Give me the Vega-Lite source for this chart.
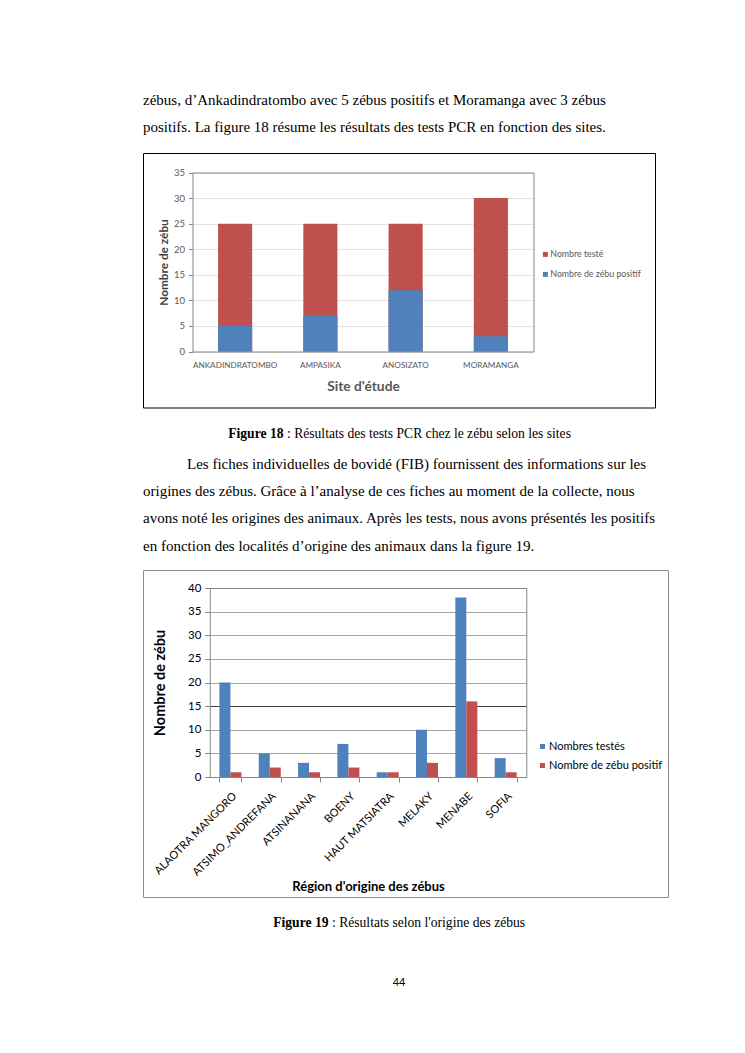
{
  "$schema": "https://vega.github.io/schema/vega-lite/v6.json",
  "background": "white",
  "padding": {"left": 142, "top": 86, "right": 0, "bottom": 0},
  "autosize": {"type": "pad"},
  "bounds": "flush",
  "spacing": 0,
  "resolve": {"scale": {"color": "independent", "xOffset": "independent"}, "legend": {"color": "independent"}},
  "config": {
    "view": {"stroke": null},
    "font": "Lato",
    "axis": {"labelFont": "Lato", "titleFont": "Lato"},
    "legend": {"labelFont": "Lato"}
  },
  "datasets": {
    "texte_haut": [
      {"ligne": 1, "texte": "zébus, d’Ankadindratombo avec 5 zébus positifs et Moramanga avec 3 zébus"},
      {"ligne": 2, "texte": "positifs. La figure 18 résume les résultats des tests  PCR en fonction des sites."}
    ],
    "legende18": [{"gras": "Figure 18", "suite": ": Résultats des tests PCR chez le zébu selon les sites"}],
    "paragraphe": [
      {"ligne": 1, "texte": "Les fiches individuelles de bovidé (FIB) fournissent des informations sur les"},
      {"ligne": 2, "texte": "origines des zébus. Grâce à l’analyse de ces fiches au moment de la collecte, nous"},
      {"ligne": 3, "texte": "avons noté les origines des animaux. Après les tests, nous avons présentés les positifs"},
      {"ligne": 4, "texte": "en fonction des localités d’origine des animaux dans la figure 19."}
    ],
    "sites": [
      {"site": "ANKADINDRATOMBO", "serie": "Nombre testé", "n": 25},
      {"site": "AMPASIKA", "serie": "Nombre testé", "n": 25},
      {"site": "ANOSIZATO", "serie": "Nombre testé", "n": 25},
      {"site": "MORAMANGA", "serie": "Nombre testé", "n": 30},
      {"site": "ANKADINDRATOMBO", "serie": "Nombre de zébu positif", "n": 5},
      {"site": "AMPASIKA", "serie": "Nombre de zébu positif", "n": 7},
      {"site": "ANOSIZATO", "serie": "Nombre de zébu positif", "n": 12},
      {"site": "MORAMANGA", "serie": "Nombre de zébu positif", "n": 3}
    ],
    "regions": [
      {"region": "ALAOTRA MANGORO", "serie": "Nombres testés", "n": 20},
      {"region": "ATSIMO_ANDREFANA", "serie": "Nombres testés", "n": 5},
      {"region": "ATSINANANA", "serie": "Nombres testés", "n": 3},
      {"region": "BOENY", "serie": "Nombres testés", "n": 7},
      {"region": "HAUT MATSIATRA", "serie": "Nombres testés", "n": 1},
      {"region": "MELAKY", "serie": "Nombres testés", "n": 10},
      {"region": "MENABE", "serie": "Nombres testés", "n": 38},
      {"region": "SOFIA", "serie": "Nombres testés", "n": 4},
      {"region": "ALAOTRA MANGORO", "serie": "Nombre de zébu positif", "n": 1},
      {"region": "ATSIMO_ANDREFANA", "serie": "Nombre de zébu positif", "n": 2},
      {"region": "ATSINANANA", "serie": "Nombre de zébu positif", "n": 1},
      {"region": "BOENY", "serie": "Nombre de zébu positif", "n": 2},
      {"region": "HAUT MATSIATRA", "serie": "Nombre de zébu positif", "n": 1},
      {"region": "MELAKY", "serie": "Nombre de zébu positif", "n": 3},
      {"region": "MENABE", "serie": "Nombre de zébu positif", "n": 16},
      {"region": "SOFIA", "serie": "Nombre de zébu positif", "n": 1}
    ],
    "legende19": [{"gras": "Figure 19", "suite": ": Résultats selon l'origine des zébus"}],
    "page": [{"texte": "44"}]
  },
  "vconcat": [
    {
      "width": 512,
      "height": 66.5,
      "data": {"name": "texte_haut"},
      "mark": {"type": "text", "align": "left", "baseline": "middle", "font": "Liberation Serif", "fontSize": 15, "color": "#000000"},
      "encoding": {
        "x": {"datum": 0, "type": "quantitative", "scale": {"domain": [0, 1]}, "axis": null},
        "y": {"field": "ligne", "type": "ordinal", "scale": {"type": "point", "padding": 0, "range": [14, 41]}, "axis": null},
        "text": {"field": "texte"}
      }
    },
    {
      "width": 512,
      "height": 254.5,
      "view": {"stroke": "#000000", "strokeWidth": 1},
      "data": {"name": "sites"},
      "layer": [
        {
          "transform": [{"filter": "datum.serie === 'Nombre testé'"}],
          "mark": {"type": "bar"},
          "encoding": {
            "x": {
              "field": "site", "type": "nominal",
              "scale": {"domain": ["ANKADINDRATOMBO", "AMPASIKA", "ANOSIZATO", "MORAMANGA"], "range": [49.5, 390.5], "paddingInner": 0.6, "paddingOuter": 0.3},
              "axis": {"orient": "bottom", "offset": -56, "domainColor": "#868686", "ticks": false, "labelFontSize": 8.2, "labelColor": "#595959", "labelPadding": 10, "labelAngle": 0, "title": "Site d'étude", "titleFontSize": 13.8, "titleFontWeight": "bold", "titleColor": "#595959", "titlePadding": 11, "grid": false}
            },
            "y": {
              "field": "n", "type": "quantitative",
              "scale": {"domain": [0, 35], "range": [198.5, 19.5], "nice": false},
              "axis": {"orient": "left", "offset": -49.5, "values": [0, 5, 10, 15, 20, 25, 30, 35], "domainColor": "#868686", "tickColor": "#868686", "tickSize": 4, "labelPadding": 4, "labelFontSize": 9.5, "labelColor": "#595959", "grid": true, "gridColor": "#e3e3e3", "title": "Nombre de zébu", "titleFontSize": 11.8, "titleFontWeight": "bold", "titleColor": "#404040", "titlePadding": 4}
            },
            "color": {
              "field": "serie", "type": "nominal",
              "scale": {"domain": ["Nombre testé", "Nombre de zébu positif"], "range": ["#C0504D", "#4F81BD"]},
              "legend": {"orient": "none", "legendX": 398, "legendY": 97, "title": null, "symbolType": "square", "symbolSize": 25, "symbolStrokeWidth": 0, "labelFontSize": 8.8, "labelColor": "#595959", "rowPadding": 10, "labelOffset": 0.5, "padding": 0}
            }
          }
        },
        {
          "transform": [{"filter": "datum.serie === 'Nombre de zébu positif'"}],
          "mark": {"type": "bar"},
          "encoding": {
            "x": {
              "field": "site", "type": "nominal",
              "scale": {"domain": ["ANKADINDRATOMBO", "AMPASIKA", "ANOSIZATO", "MORAMANGA"], "range": [49.5, 390.5], "paddingInner": 0.6, "paddingOuter": 0.3},
              "axis": {"orient": "top", "offset": -19.5, "domainColor": "#868686", "ticks": false, "labels": false, "title": null, "grid": false}
            },
            "y": {
              "field": "n", "type": "quantitative",
              "scale": {"domain": [0, 35], "range": [198.5, 19.5], "nice": false},
              "axis": {"orient": "right", "offset": -121.5, "domainColor": "#868686", "ticks": false, "labels": false, "title": null, "grid": false}
            },
            "color": {"field": "serie", "type": "nominal"}
          }
        }
      ],
      "resolve": {"axis": {"x": "independent", "y": "independent"}}
    },
    {
      "width": 512,
      "height": 52,
      "data": {"name": "legende18"},
      "layer": [
        {"mark": {"type": "text", "align": "right", "baseline": "middle", "font": "Liberation Serif", "fontSize": 13.6, "fontWeight": "bold", "color": "#000000", "dx": -115.5}, "encoding": {"text": {"field": "gras"}}},
        {"mark": {"type": "text", "align": "left", "baseline": "middle", "font": "Liberation Serif", "fontSize": 13.6, "color": "#000000", "dx": -112}, "encoding": {"text": {"field": "suite"}}}
      ]
    },
    {
      "width": 512,
      "height": 110,
      "data": {"name": "paragraphe"},
      "encoding": {
        "x": {"datum": 0, "type": "quantitative", "scale": {"domain": [0, 1]}, "axis": null},
        "y": {"field": "ligne", "type": "ordinal", "scale": {"type": "point", "padding": 0, "range": [3.5, 85.5]}, "axis": null},
        "text": {"field": "texte"}
      },
      "layer": [
        {
          "transform": [{"filter": "datum.ligne === 1"}],
          "mark": {"type": "text", "align": "left", "baseline": "middle", "font": "Liberation Serif", "fontSize": 15, "color": "#000000", "dx": 44}
        },
        {
          "transform": [{"filter": "datum.ligne > 1"}],
          "mark": {"type": "text", "align": "left", "baseline": "middle", "font": "Liberation Serif", "fontSize": 15, "color": "#000000"}
        }
      ]
    },
    {
      "width": 525,
      "height": 327,
      "view": {"stroke": "#8c8c8c", "strokeWidth": 1},
      "data": {"name": "regions"},
      "layer": [
        {
          "transform": [{"filter": "datum.serie === 'Nombres testés'"}],
          "mark": {"type": "bar"},
          "encoding": {
            "x": {
              "field": "region", "type": "nominal",
              "scale": {"domain": ["ALAOTRA MANGORO", "ATSIMO_ANDREFANA", "ATSINANANA", "BOENY", "HAUT MATSIATRA", "MELAKY", "MENABE", "SOFIA"], "range": [66.8, 383.3], "paddingInner": 0.44, "paddingOuter": 0.245},
              "axis": {"orient": "bottom", "offset": -120, "domainColor": "#868686", "ticks": true, "tickBand": "extent", "tickSize": 5, "tickColor": "#868686", "labelAngle": -45, "labelAlign": "right", "labelBaseline": "top", "labelFontSize": 11, "labelColor": "#000000", "labelPadding": 8, "title": "Région d'origine des zébus", "titleFontSize": 13, "titleFontWeight": "bold", "titleColor": "#000000", "titlePadding": 3, "grid": false}
            },
            "xOffset": {"field": "serie", "type": "nominal", "scale": {"domain": ["Nombres testés", "Nombre de zébu positif"], "paddingInner": 0, "paddingOuter": 0}},
            "y": {
              "field": "n", "type": "quantitative",
              "scale": {"domain": [0, 40], "range": [207, 18], "nice": false},
              "axis": {"orient": "left", "offset": -66.8, "values": [0, 5, 10, 15, 20, 25, 30, 35, 40], "domainColor": "#868686", "tickColor": "#868686", "tickSize": 5, "labelPadding": 4, "labelFontSize": 11.5, "labelColor": "#000000", "grid": true, "gridColor": {"condition": {"test": "datum.value === 15", "value": "#404040"}, "value": "#a6a6a6"}, "title": "Nombre de zébu", "titleFontSize": 14.5, "titleFontWeight": "bold", "titleColor": "#000000", "titlePadding": 20}
            },
            "color": {
              "field": "serie", "type": "nominal",
              "scale": {"domain": ["Nombres testés", "Nombre de zébu positif"], "range": ["#4F81BD", "#C0504D"]},
              "legend": {"orient": "none", "legendX": 394, "legendY": 171, "title": null, "symbolType": "square", "symbolSize": 25, "symbolStrokeWidth": 0, "labelFontSize": 11, "labelColor": "#000000", "rowPadding": 7, "labelOffset": 1, "padding": 0}
            }
          }
        },
        {
          "transform": [{"filter": "datum.serie === 'Nombre de zébu positif'"}],
          "mark": {"type": "bar"},
          "encoding": {
            "x": {
              "field": "region", "type": "nominal",
              "scale": {"domain": ["ALAOTRA MANGORO", "ATSIMO_ANDREFANA", "ATSINANANA", "BOENY", "HAUT MATSIATRA", "MELAKY", "MENABE", "SOFIA"], "range": [66.8, 383.3], "paddingInner": 0.44, "paddingOuter": 0.245},
              "axis": {"orient": "top", "offset": -18, "domainColor": "#868686", "ticks": false, "labels": false, "title": null, "grid": false}
            },
            "xOffset": {"field": "serie", "type": "nominal", "scale": {"domain": ["Nombres testés", "Nombre de zébu positif"], "paddingInner": 0, "paddingOuter": 0}},
            "y": {
              "field": "n", "type": "quantitative",
              "scale": {"domain": [0, 40], "range": [207, 18], "nice": false},
              "axis": {"orient": "right", "offset": -141.7, "domainColor": "#868686", "ticks": false, "labels": false, "title": null, "grid": false}
            },
            "color": {"field": "serie", "type": "nominal"}
          }
        }
      ],
      "resolve": {"axis": {"x": "independent", "y": "independent"}}
    },
    {
      "width": 512,
      "height": 52,
      "data": {"name": "legende19"},
      "layer": [
        {"mark": {"type": "text", "align": "right", "baseline": "middle", "font": "Liberation Serif", "fontSize": 13.6, "fontWeight": "bold", "color": "#000000", "dx": -70.5}, "encoding": {"text": {"field": "gras"}}},
        {"mark": {"type": "text", "align": "left", "baseline": "middle", "font": "Liberation Serif", "fontSize": 13.6, "color": "#000000", "dx": -67}, "encoding": {"text": {"field": "suite"}}}
      ]
    },
    {
      "width": 512,
      "height": 68,
      "data": {"name": "page"},
      "mark": {"type": "text", "align": "center", "baseline": "middle", "font": "Lato", "fontSize": 11, "color": "#000000"},
      "encoding": {"text": {"field": "texte"}}
    }
  ]
}
